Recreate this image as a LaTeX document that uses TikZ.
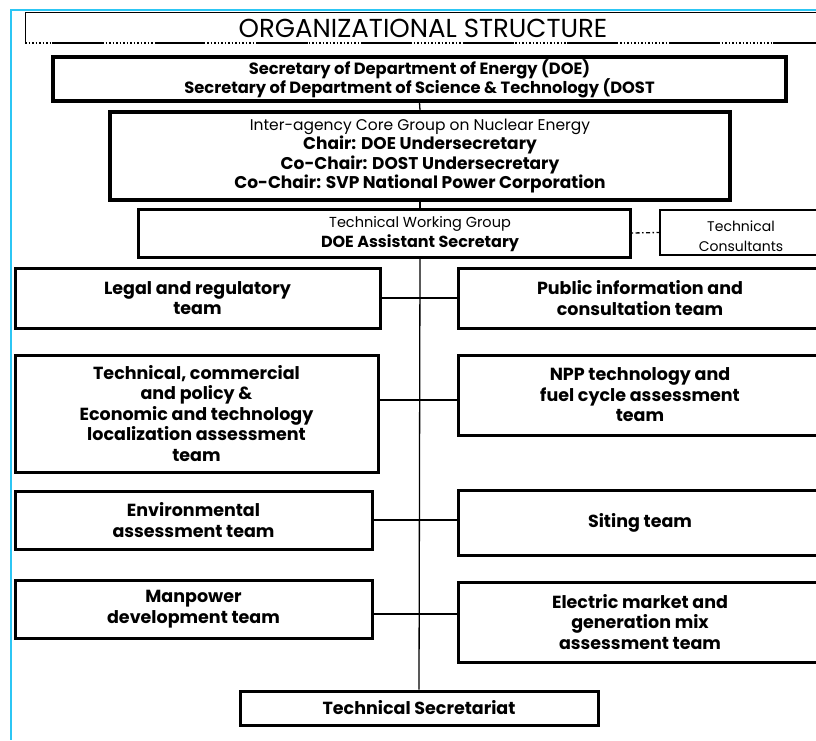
\documentclass[tikz,border=0pt]{standalone}
\usepackage{fontspec}
\setmainfont{Poppins}
\usetikzlibrary{positioning}
\definecolor{FrameCyan}{HTML}{2CC6F4}

\tikzset{
  orgbox/.style={draw, line width=3pt, inner sep=0pt, align=center,
    font=\bfseries\fontsize{17.5}{20.5}\selectfont},
  thintext/.style={font=\fontsize{14}{20}\selectfont, align=center},
  link/.style={line width=1.3pt},
}

\begin{document}
\begin{tikzpicture}[x=1pt, y=-1pt]
  \useasboundingbox (0,0) rectangle (816,740);
  % page frame and title bar
  \draw[FrameCyan, line width=1.5pt] (816,10) -- (11,10) -- (11,740);
  \draw[line width=1pt] (816,12.5) -- (25,12.5) -- (25,43);
  \draw[line width=1.5pt, dash pattern=on 50pt off 53pt, dash phase=76pt] (25,43) -- (816,43);
  \draw[line width=1.5pt, dash pattern=on 1.5pt off 2pt] (25,43) -- (816,43);
  \node[font=\fontsize{26}{28}\selectfont] (title) at (423,28) {ORGANIZATIONAL STRUCTURE};

  % top levels
  \node[orgbox, line width=3.5pt, minimum width=733pt, minimum height=44pt,
    font=\bfseries\fontsize{16.3}{19.5}\selectfont] (sec) at (419.5,79)
    {Secretary of Department of Energy (DOE)\\Secretary of Department of Science \& Technology (DOST};
  \node[orgbox, line width=3.5pt, minimum width=620pt, minimum height=88pt,
    font=\bfseries\fontsize{17}{19.5}\selectfont] (core) at (420,156)
    {{\mdseries\fontsize{15.5}{19.5}\selectfont Inter-agency Core Group on Nuclear Energy}\\
     Chair: DOE Undersecretary\\Co-Chair: DOST Undersecretary\\Co-Chair: SVP National Power Corporation};
  \node[orgbox, minimum width=492pt, minimum height=48pt] (twg) at (384,233) {};
  \node[thintext, font=\fontsize{14.5}{20}\selectfont] (twglabel) at (420,234)
    {Technical Working Group\\{\bfseries\fontsize{16}{19}\selectfont DOE Assistant Secretary}};
  \node[draw, line width=2.5pt, minimum width=160pt, minimum height=45pt] (consult) at (740,232.5) {};
  \node[thintext] (consultlabel) at (741,236) {Technical\\Consultants};
  \draw[link, dash pattern=on 1.5pt off 2.5pt on 4pt off 2.5pt] (twg.east) -- (consult.west);

  % teams
  \foreach \name/\x/\y/\w/\h/\txt in {
      legal/197.5/298/365/60/{Legal and regulatory\\team},
      techcom/196.5/413.5/363/117/{Technical, commercial\\and policy \&\\Economic and technology\\localization assessment\\team},
      env/193.5/520/357/58/{Environmental\\assessment team},
      manpower/193.5/609/357/58/{Manpower\\development team},
      public/640/298/364/60/{Public information and\\consultation team},
      npp/640/395/364/80/{NPP technology and\\fuel cycle assessment\\team},
      siting/640/522.5/364/65/{Siting team},
      electric/640/622/364/80/{Electric market and\\generation mix\\assessment team}} {
    \node[orgbox, minimum width=\w pt, minimum height=\h pt] (\name) at (\x,\y) {\txt};
  }
  \node[orgbox, minimum width=358pt, minimum height=34pt] (techsec) at (419,708) {Technical Secretariat};

  % connectors
  \coordinate (rowtwo) at (0,400);
  \coordinate (rowfour) at (0,614);
  \draw[link] (sec.south) -- (core.north);
  \draw[link] (core.south) -- (core.south |- twg.north);
  \draw[link] (core.south |- twg.south) -- (techsec.north);
  \draw[link] (legal.east) -- (legal.east -| public.west);
  \draw[link] (techcom.east |- rowtwo) -- (npp.west |- rowtwo);
  \draw[link] (env.east) -- (env.east -| siting.west);
  \draw[link] (manpower.east |- rowfour) -- (electric.west |- rowfour);
\end{tikzpicture}
\end{document}
